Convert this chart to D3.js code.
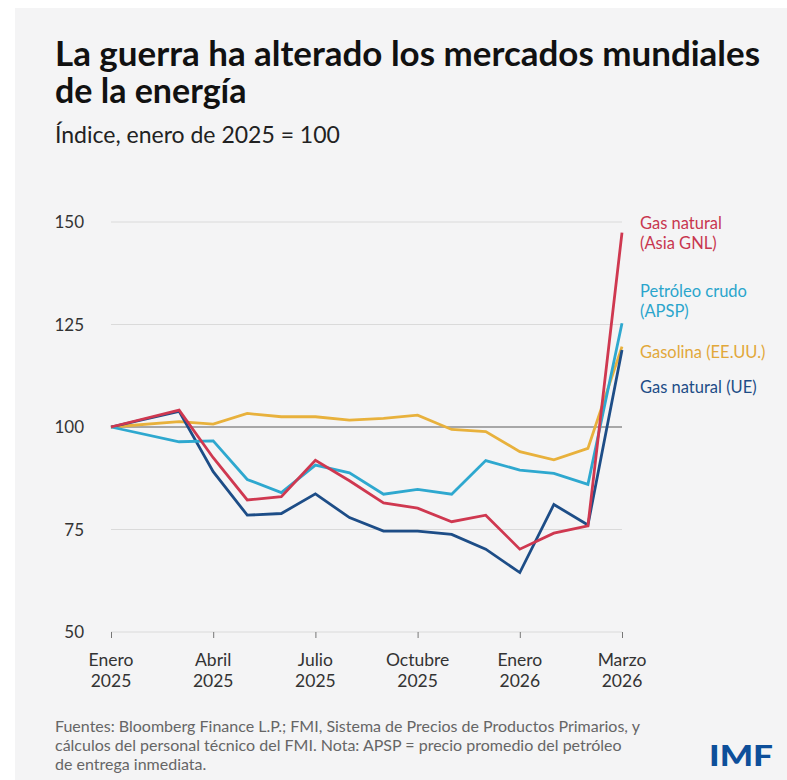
<!DOCTYPE html>
<html>
<head>
<meta charset="utf-8">
<script src="https://cdn.jsdelivr.net/npm/d3@7"></script>
<style>
  html, body { margin: 0; padding: 0; background: #ffffff; }
  svg { display: block; }
  text { font-family: Lato, "Open Sans", sans-serif; }
</style>
</head>
<body>
<svg id="chart" width="787" height="780"></svg>
<script>
// Month offsets from January 2025 for each observation
const monthIndex = [0, 2, 3, 4, 5, 6, 7, 8, 9, 10, 11, 12, 13, 14, 15];

// Index, January 2025 = 100
const gasAsia    = [100, 104.1, 92.5, 82.2, 83.0, 91.9, 86.9, 81.5, 80.2, 76.9, 78.5, 70.2, 74.1, 75.9, 147.4];
const crudeAPSP  = [100, 96.4, 96.6, 87.2, 84.0, 90.7, 88.8, 83.6, 84.8, 83.6, 91.8, 89.5, 88.7, 86.0, 125.3];
const gasolineUS = [100, 101.3, 100.7, 103.3, 102.5, 102.5, 101.7, 102.1, 102.9, 99.4, 98.9, 94.0, 92.0, 94.8, 119.6];
const gasEU      = [100, 103.8, 89.1, 78.5, 78.9, 83.7, 77.9, 74.6, 74.6, 73.8, 70.2, 64.5, 81.1, 76.1, 118.8];

// Axis ticks
const xTickPos   = [0, 3, 6, 9, 12, 15];
const xTickMonth = ["Enero", "Abril", "Julio", "Octubre", "Enero", "Marzo"];
const xTickYear  = ["2025", "2025", "2025", "2025", "2026", "2026"];
const yTicks     = [50, 75, 100, 125, 150];

const seriesNames = [["Gas natural", "(Asia GNL)"], ["Petróleo crudo", "(APSP)"], ["Gasolina (EE.UU.)"], ["Gas natural (UE)"]];

const series = [
  { values: gasolineUS, color: "#e8b13c", textColor: "#e2a83a", label: seriesNames[2], labelY: 358 },
  { values: gasEU,      color: "#1d4d87", textColor: "#1d4d87", label: seriesNames[3], labelY: 393 },
  { values: crudeAPSP,  color: "#2ea8cf", textColor: "#2aa5cc", label: seriesNames[1], labelY: 297 },
  { values: gasAsia,    color: "#cf3850", textColor: "#c8374f", label: seriesNames[0], labelY: 229 }
];

const svg = d3.select("#chart");

// Panel background
svg.append("rect").attr("x", 15).attr("y", 8).attr("width", 772).attr("height", 772).attr("fill", "#f4f4f5");

// Title and subtitle
const title = svg.append("text").attr("font-size", 34).attr("font-weight", 700).attr("fill", "#111");
title.append("tspan").attr("x", 55).attr("y", 66).text("La guerra ha alterado los mercados mundiales")
  .attr("textLength", 705).attr("lengthAdjust", "spacingAndGlyphs");
title.append("tspan").attr("x", 55).attr("y", 103).text("de la energía");

svg.append("text").attr("x", 55).attr("y", 143).attr("font-size", 23).attr("fill", "#222")
  .text("Índice, enero de 2025 = 100");

// Scales
const x = d3.scaleLinear().domain([0, 15]).range([111, 622]);
const y = d3.scaleLinear().domain([50, 150]).range([632, 222]);

// Gridlines
svg.append("g").selectAll("line").data(yTicks).join("line")
  .attr("x1", x(0)).attr("x2", x(15))
  .attr("y1", d => y(d)).attr("y2", d => y(d))
  .attr("stroke", d => d === 100 ? "#5a5a5a" : "#dadada")
  .attr("stroke-width", 1);

// Y axis labels
svg.append("g").selectAll("text").data(yTicks).join("text")
  .attr("x", 84).attr("y", d => y(d) + 6)
  .attr("text-anchor", "end").attr("font-size", 17).attr("fill", "#333")
  .text(d => d);

// X axis ticks and labels
const xAxis = d3.axisBottom(x).tickValues(xTickPos).tickSize(6).tickFormat("");
const xg = svg.append("g").attr("transform", `translate(0,${y(50)})`).call(xAxis);
xg.select(".domain").remove();
xg.selectAll(".tick line").attr("stroke", "#777");
const xl = svg.append("g");
xl.selectAll("text.m").data(xTickPos).join("text").attr("class", "m")
  .attr("x", d => x(d)).attr("y", 666).attr("text-anchor", "middle")
  .attr("font-size", 17.5).attr("fill", "#333").text((d, i) => xTickMonth[i]);
xl.selectAll("text.yr").data(xTickPos).join("text").attr("class", "yr")
  .attr("x", d => x(d)).attr("y", 687).attr("text-anchor", "middle")
  .attr("font-size", 17.5).attr("fill", "#333").text((d, i) => xTickYear[i]);

// Lines
const line = d3.line().x((d, i) => x(monthIndex[i])).y(d => y(d));
svg.append("g").selectAll("path").data(series).join("path")
  .attr("d", s => line(s.values))
  .attr("fill", "none").attr("stroke", s => s.color)
  .attr("stroke-width", 2.8).attr("stroke-linejoin", "miter");

// Series labels
const lbl = svg.append("g");
series.forEach(s => {
  const t = lbl.append("text").attr("font-size", 16.5).attr("fill", s.textColor);
  s.label.forEach((l, k) => t.append("tspan").attr("x", 640).attr("y", s.labelY + k * 20).text(l));
});

// Source note
const note = svg.append("text").attr("font-size", 16).attr("fill", "#666");
["Fuentes: Bloomberg Finance L.P.; FMI, Sistema de Precios de Productos Primarios, y",
 "cálculos del personal técnico del FMI. Nota: APSP = precio promedio del petróleo",
 "de entrega inmediata."].forEach((l, k) =>
  note.append("tspan").attr("x", 55).attr("y", 732 + k * 19).text(l));

// Logo
svg.append("text").attr("x", 709).attr("y", 766).attr("font-size", 29).attr("font-weight", 900)
  .attr("fill", "#0d4f9a").attr("textLength", 64).attr("lengthAdjust", "spacingAndGlyphs").text("IMF");
</script>
</body>
</html>
